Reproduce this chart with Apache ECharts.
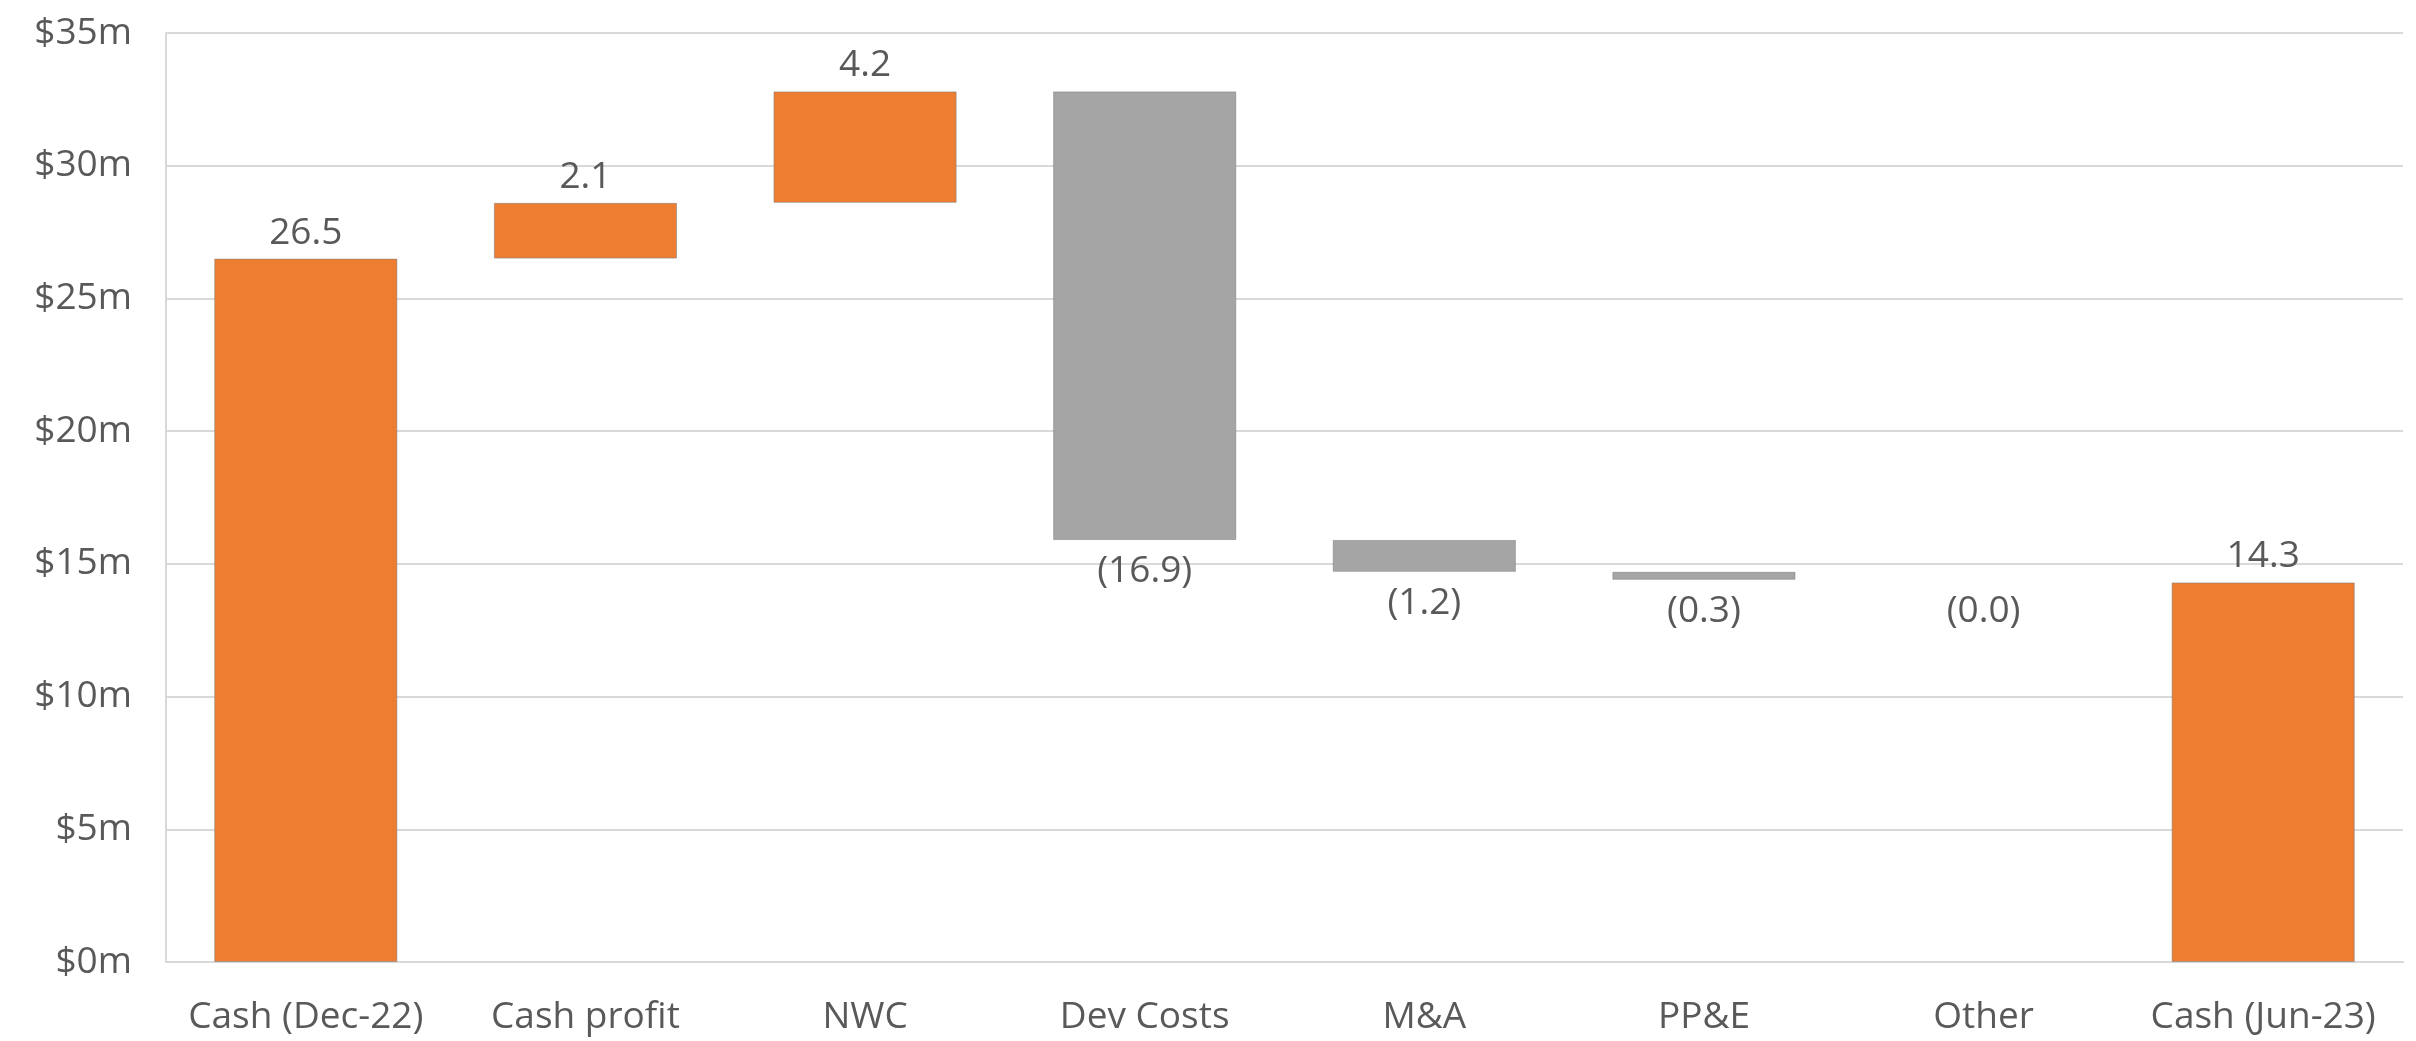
<!DOCTYPE html>
<html>
<head>
<meta charset="utf-8">
<title>Cash bridge</title>
<script src="https://cdn.jsdelivr.net/npm/echarts@6/dist/echarts.min.js"></script>
<style>
  html, body { margin: 0; padding: 0; background: #ffffff; }
  #chart { width: 2416px; height: 1041px; }
</style>
</head>
<body>
<div id="chart"></div>
<script>
// Cash bridge, $m
const categories = ['Cash (Dec-22)', 'Cash profit', 'NWC', 'Dev Costs', 'M&A', 'PP&E', 'Other', 'Cash (Jun-23)'];
const changes = [26.5, 2.1, 4.2, -16.9, -1.2, -0.3, -0.0, 14.3];
const kinds = ['total', 'delta', 'delta', 'delta', 'delta', 'delta', 'delta', 'total'];
const yTicks = [0, 5, 10, 15, 20, 25, 30, 35];

const ORANGE = '#ED7D31';
const GREY = '#A5A5A5';
const TEXT = '#595959';
const GRID = '#D9D9D9';
const FONT = '"Open Sans", "Liberation Sans", sans-serif';

const isNeg = v => v < 0 || Object.is(v, -0);

// Floating bars: an invisible base plus the visible step
const baseVals = [];
const stepVals = [];
let running = 0;
changes.forEach((v, i) => {
  if (kinds[i] === 'total') {
    baseVals.push(0);
    stepVals.push(v);
    running = v;
  } else if (isNeg(v)) {
    running += v;
    baseVals.push(running);
    stepVals.push(-v);
  } else {
    baseVals.push(running);
    stepVals.push(v);
    running += v;
  }
});

const fmt = v => isNeg(v) ? '(' + Math.abs(v).toFixed(1) + ')' : v.toFixed(1);

const stepData = changes.map((v, i) => {
  const neg = kinds[i] !== 'total' && isNeg(v);
  return {
    value: stepVals[i],
    itemStyle: {
      color: neg ? GREY : ORANGE,
      borderColor: stepVals[i] === 0 ? 'transparent' : 'rgba(128,128,128,0.55)',
      borderWidth: stepVals[i] === 0 ? 0 : 1
    },
    label: {
      position: neg ? 'bottom' : 'top',
      distance: neg ? 13 : 7,
      formatter: () => fmt(v)
    }
  };
});

const chart = echarts.init(document.getElementById('chart'), null, { renderer: 'canvas' });
chart.setOption({
  animation: false,
  backgroundColor: '#ffffff',
  grid: { left: 166, right: 13, top: 33, bottom: 79 },
  xAxis: {
    type: 'category',
    data: categories,
    axisLine: { show: true, lineStyle: { color: GRID, width: 2 } },
    axisTick: { show: false },
    axisLabel: { color: TEXT, fontSize: 37, fontFamily: FONT, margin: 37, interval: 0 }
  },
  yAxis: {
    type: 'value',
    min: yTicks[0],
    max: yTicks[yTicks.length - 1],
    interval: 5,
    axisLine: { show: true, lineStyle: { color: GRID, width: 2 } },
    axisTick: { show: false },
    splitLine: { show: true, lineStyle: { color: GRID, width: 2 } },
    axisLabel: {
      color: TEXT, fontSize: 37, fontFamily: FONT, margin: 34,
      formatter: v => '$' + v + 'm'
    }
  },
  series: [
    {
      name: 'base',
      type: 'bar',
      stack: 'bridge',
      data: baseVals,
      itemStyle: { color: 'transparent' },
      barCategoryGap: '34.5%',
      silent: true
    },
    {
      name: 'step',
      type: 'bar',
      stack: 'bridge',
      data: stepData,
      barCategoryGap: '34.5%',
      label: {
        show: true,
        color: TEXT,
        fontSize: 37,
        fontFamily: FONT
      }
    }
  ]
});
</script>
</body>
</html>
